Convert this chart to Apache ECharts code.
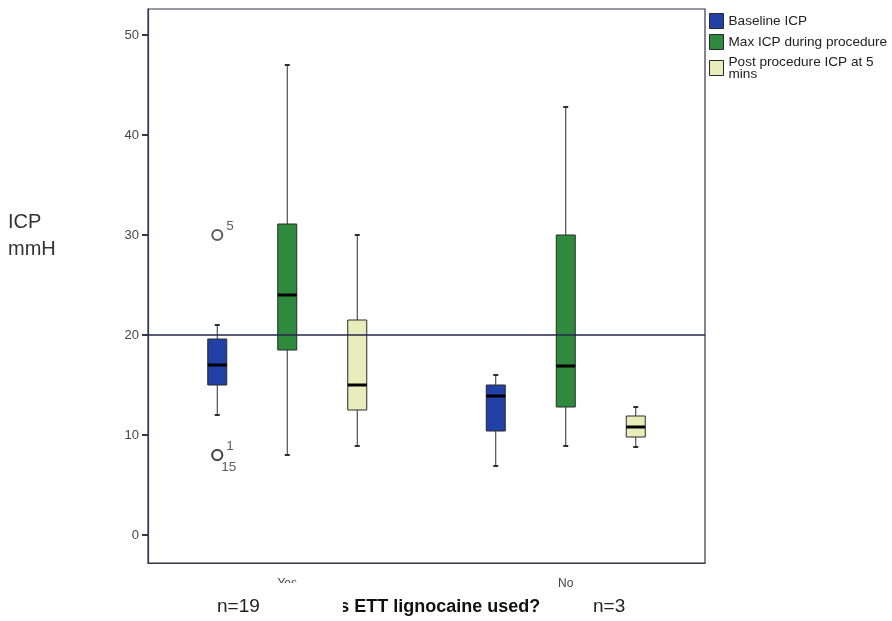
<!DOCTYPE html>
<html>
<head>
<meta charset="utf-8">
<script src="https://cdn.jsdelivr.net/npm/echarts@6/dist/echarts.min.js"></script>
<style>
  html, body { margin: 0; padding: 0; background: #fff; }
  #chart { width: 892px; height: 621px; }
</style>
</head>
<body>
<div id="chart"></div>
<script>
// Groups on the x axis
const groups = ['Yes', 'No'];
// Box summaries per group: [lower whisker, Q1, median, Q3, upper whisker]
const baselineIcp  = [[12, 15, 17, 19.6, 21], [6.9, 10.4, 13.9, 15, 16]];
const maxIcpDuring = [[8, 18.5, 24, 31.1, 47], [8.9, 12.8, 16.9, 30, 42.8]];
const postIcp5min  = [[8.9, 12.5, 15, 21.5, 30], [8.8, 9.8, 10.8, 11.9, 12.8]];
// Outlying baseline cases: [group index, ICP, case number]
const baselineOutliers = [[0, 30, '5'], [0, 8, '1'], [0, 8, '15']];
// Axis ticks and reference level
const yTicks = [0, 10, 20, 30, 40, 50];
const referenceIcp = 20;
const seriesNames = ['Baseline ICP', 'Max ICP during procedure', 'Post procedure ICP at 5 mins'];
const sampleSizes = ['n=19', 'n=3'];

const FONT = 'Arial, "Liberation Sans", Helvetica, sans-serif';
const AXIS = '#34344c';
const COLORS = ['#2141a6', '#2f8a3d', '#e9edbc'];
const OFFSETS = [-70, 0, 70];   // horizontal placement of each series inside a group (px)
const BOX_W = 19;
const CAP = 2.5;

function boxRenderer(offset, fill) {
  return function (params, api) {
    const cat = api.value(0);
    const x = api.coord([cat, 0])[0] + offset;
    const y = i => api.coord([cat, api.value(i)])[1];
    const lo = y(1), q1 = y(2), med = y(3), q3 = y(4), hi = y(5);
    const hw = BOX_W / 2;
    const thin = { stroke: '#2d2d3a', lineWidth: 1 };
    return {
      type: 'group',
      children: [
        { type: 'line', shape: { x1: x, y1: hi, x2: x, y2: q3 }, style: thin },
        { type: 'line', shape: { x1: x, y1: q1, x2: x, y2: lo }, style: thin },
        { type: 'line', shape: { x1: x - CAP, y1: hi, x2: x + CAP, y2: hi }, style: { stroke: '#2d2d3a', lineWidth: 2 } },
        { type: 'line', shape: { x1: x - CAP, y1: lo, x2: x + CAP, y2: lo }, style: { stroke: '#2d2d3a', lineWidth: 2 } },
        { type: 'rect', shape: { x: x - hw, y: q3, width: BOX_W, height: q1 - q3 },
          style: { fill: fill, stroke: '#2a2a2a', lineWidth: 1 } },
        { type: 'line', shape: { x1: x - hw, y1: med, x2: x + hw, y2: med },
          style: { stroke: '#000', lineWidth: 3 } }
      ]
    };
  };
}

const boxSets = [baselineIcp, maxIcpDuring, postIcp5min];
const boxSeries = boxSets.map((set, s) => ({
  name: seriesNames[s],
  type: 'custom',
  renderItem: boxRenderer(OFFSETS[s], COLORS[s]),
  itemStyle: { color: COLORS[s] },
  encode: { x: 0, y: [1, 2, 3, 4, 5] },
  data: set.map((v, g) => [g].concat(v)),
  z: 2
}));

const outlierData = baselineOutliers.map(([g, v, id], k) => {
  const stacked = baselineOutliers.slice(0, k).some(o => o[0] === g && o[1] === v);
  return {
    value: [g, v],
    caseId: id,
    label: { offset: stacked ? [-5, 12] : [0, -9] }
  };
});

const chart = echarts.init(document.getElementById('chart'));
chart.setOption({
  animation: false,
  textStyle: { fontFamily: FONT },
  grid: {
    left: 148, right: 187, top: 9, bottom: 57,
    show: true, borderColor: AXIS, borderWidth: 1.2, backgroundColor: 'transparent'
  },
  legend: {
    orient: 'vertical',
    left: 709, top: 13, padding: 0,
    itemWidth: 14, itemHeight: 15, itemGap: 5,
    selectedMode: false,
    textStyle: { fontFamily: FONT, fontSize: 13.6, color: '#222', lineHeight: 12 },
    formatter: name => name.replace(' at 5 mins', ' at 5\nmins'),
    data: seriesNames.map((n, i) => ({
      name: n, icon: 'rect',
      itemStyle: { color: COLORS[i], borderColor: '#2a2a2a', borderWidth: 1 }
    }))
  },
  xAxis: {
    type: 'category',
    data: groups,
    boundaryGap: true,
    axisLine: { onZero: false, lineStyle: { color: AXIS, width: 1.2 } },
    axisTick: { alignWithLabel: true, length: 7, lineStyle: { color: AXIS, width: 1.5 } },
    axisLabel: { margin: 15, fontSize: 12, color: '#444', fontFamily: FONT },
    splitLine: { show: false },
    name: 'Was ETT lignocaine used?',
    nameLocation: 'middle',
    nameGap: 35,
    nameTextStyle: { fontSize: 18, fontWeight: 'bold', color: '#111', fontFamily: FONT }
  },
  yAxis: {
    type: 'value',
    min: -2.8, max: 52.6,
    axisLine: { show: true, onZero: false, lineStyle: { color: AXIS, width: 1.2 } },
    axisTick: { show: true, customValues: yTicks, length: 6, lineStyle: { color: AXIS, width: 2 } },
    axisLabel: { customValues: yTicks, fontSize: 13, color: '#444', margin: 9, fontFamily: FONT },
    splitLine: { show: false }
  },
  series: boxSeries.concat([{
    name: 'outliers',
    type: 'scatter',
    data: outlierData,
    symbol: 'circle',
    symbolSize: 10,
    symbolOffset: [OFFSETS[0], 0],
    itemStyle: { color: '#fff', borderColor: '#333', borderWidth: 2 },
    label: {
      show: true, position: 'right', distance: 3,
      fontSize: 13.5, color: '#333', fontFamily: FONT,
      formatter: p => p.data.caseId
    },
    z: 3,
    markLine: {
      silent: true,
      symbol: 'none',
      label: { show: false },
      lineStyle: { color: '#26264a', width: 1.5, type: 'solid' },
      data: [{ yAxis: referenceIcp }],
      z: 5
    }
  }]),
  graphic: [
    {
      type: 'text', left: 8, top: 209, z: 100,
      style: { text: 'ICP\nmmH', fontSize: 20, lineHeight: 27, fill: '#333', font: '20px ' + FONT }
    },
    {
      type: 'group', z: 100,
      children: [
        { type: 'rect', shape: { x: 180, y: 583, width: 163, height: 38 }, style: { fill: '#fff' }, z: 100 },
        { type: 'text', x: 217, y: 607, z: 101,
          style: { text: sampleSizes[0], fontSize: 19, fill: '#222', verticalAlign: 'middle', fontFamily: FONT } },
        { type: 'rect', shape: { x: 548, y: 587, width: 140, height: 34 }, style: { fill: '#fff' }, z: 100 },
        { type: 'text', x: 593, y: 607, z: 101,
          style: { text: sampleSizes[1], fontSize: 19, fill: '#222', verticalAlign: 'middle', fontFamily: FONT } }
      ]
    }
  ]
});
</script>
</body>
</html>
